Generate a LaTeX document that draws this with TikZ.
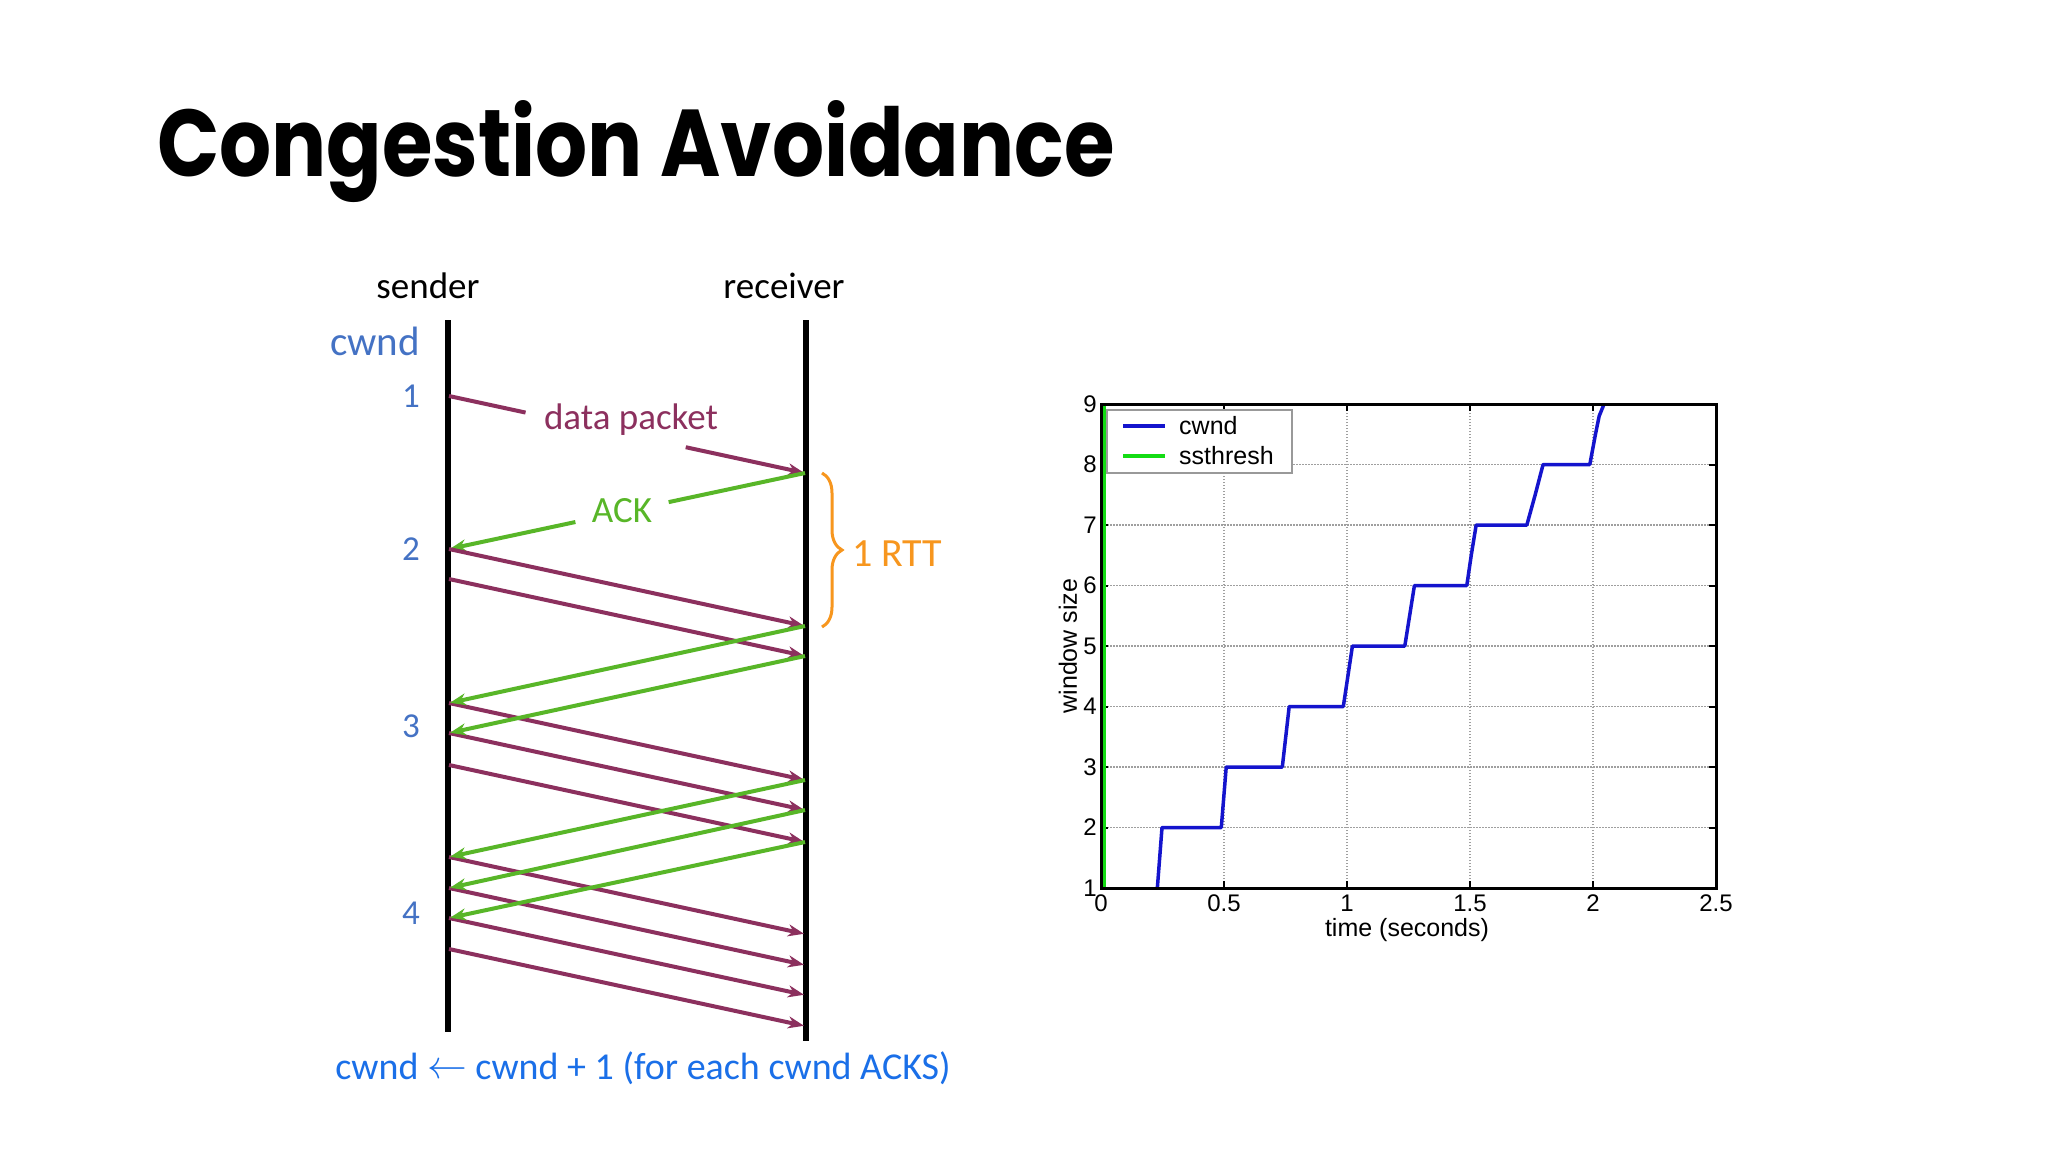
\documentclass[tikz,border=0pt]{standalone}
\usepackage{fontspec}
\setmainfont{Carlito}
\newfontfamily\titlefont{Poppins}
\newfontfamily\plotfont{Liberation Sans}
\usetikzlibrary{arrows.meta,calc,decorations.pathreplacing}
\definecolor{cwblue}{RGB}{68,114,196}
\definecolor{botblue}{RGB}{26,111,232}
\definecolor{datac}{RGB}{140,48,94}
\definecolor{ackc}{RGB}{88,182,40}
\definecolor{rttc}{RGB}{247,150,30}
\definecolor{plotblue}{RGB}{20,20,205}
\definecolor{plotgreen}{RGB}{20,220,20}
\tikzset{
  lifeline/.style={line width=6pt,black},
  datarr/.style={line width=4pt,datac,-{Stealth[length=16pt,width=12pt,inset=5pt]},shorten >=1pt},
  ackarr/.style={line width=4pt,ackc,-{Stealth[length=16pt,width=12pt,inset=5pt]},shorten >=1pt},
  dataseg/.style={line width=4pt,datac},
  ackseg/.style={line width=4pt,ackc},
  lbl/.style={font=\fontsize{37}{44}\selectfont,inner sep=0pt},
  numlbl/.style={font=\fontsize{35}{42}\selectfont,text=cwblue,inner sep=0pt},
  gridl/.style={gray!75,line width=1.2pt,dash pattern=on 1.5pt off 1.5pt},
  frame/.style={black,line width=3pt},
  ticklbl/.style={font=\plotfont\fontsize{24}{28}\selectfont,inner sep=0pt},
}
\begin{document}
\begin{tikzpicture}[x=1pt,y=-1pt]
\useasboundingbox[fill=white] (0,0) rectangle (2048,1152);

% title
\node[anchor=base west,inner sep=0pt] (title) at (157,176)
  {\resizebox{957pt}{76pt}{\titlefont\bfseries Congestion Avoidance}};

% headers
\node[lbl,anchor=base] (sender) at (428,298) {sender};
\node[lbl,anchor=base] (receiver) at (784,298) {receiver};
\node[lbl,text=cwblue,font=\fontsize{41}{48}\selectfont,anchor=base] (cwnd) at (375,355) {cwnd};

% lifelines
\coordinate (stop) at (448,320);
\coordinate (sbot) at (448,1032);
\coordinate (rtop) at (806,320);
\coordinate (rbot) at (806,1041);
\draw[lifeline] (stop) -- (sbot);
\draw[lifeline] (rtop) -- (rbot);

% numbers
\node[numlbl] (n1) at (411,396) {1};
\node[numlbl] (n2) at (411,549) {2};
\node[numlbl] (n3) at (411,726) {3};
\node[numlbl] (n4) at (411,913) {4};

% event points
\foreach \i/\sy/\ry in {1/396/473,2/549/626,3/579/656,4/703/780,5/733/810,6/765/842,7/857/934,8/888/965,9/918/995,10/949/1026}{
  \coordinate (s\i) at (449,\sy);
  \coordinate (r\i) at (805,\ry);
}

% first data packet with gap for label
\draw[dataseg] (s1) -- ($(s1)!0.215!(r1)$);
\draw[datarr] ($(s1)!0.665!(r1)$) -- (r1);
\node[lbl,text=datac] (dlabel) at (631,420) {data packet};

% first ACK with gap for label
\draw[ackseg] (r1) -- ($(r1)!0.383!(s2)$);
\draw[ackarr] ($(r1)!0.645!(s2)$) -- (s2);
\node[lbl,text=ackc] (alabel) at (622,511) {ACK};

% remaining data packets
\foreach \i in {2,...,10}{
  \draw[datarr] (s\i) -- (r\i);
}
% remaining ACKs
\draw[ackarr] (r2) -- (s4);
\draw[ackarr] (r3) -- (s5);
\draw[ackarr] (r4) -- (s7);
\draw[ackarr] (r5) -- (s8);
\draw[ackarr] (r6) -- (s9);

% RTT brace
\coordinate (btop) at (822,473);
\coordinate (bbot) at (822,627);
\draw[rttc,line width=3pt,decorate,decoration={brace,amplitude=20pt}] (btop) -- (bbot);
\node[lbl,text=rttc,font=\fontsize{40}{48}\selectfont,anchor=west] (rtt) at (852,554) {1 RTT};

% bottom formula
\node[lbl,text=botblue,font=\fontsize{38}{46}\selectfont] (formula) at (643,1068)
  {cwnd \raisebox{1pt}{\scalebox{1.6}{$\leftarrow$}} cwnd + 1 (for each cwnd ACKS)};

% ---------------- plot ----------------
\begin{scope}[shift={(1101pt,-888pt)},x=246pt,y=60.5pt]
  \foreach \gx in {0.5,1,1.5,2} \draw[gridl] (\gx,0) -- (\gx,8);
  \foreach \gy in {1,...,7} \draw[gridl] (0,\gy) -- (2.5,\gy);
  \foreach \gx in {0.5,1,1.5,2}{
    \draw[black,line width=2pt] (\gx,0) -- ++(0,7pt);
    \draw[black,line width=2pt] (\gx,8) -- ++(0,-7pt);
  }
  \foreach \gy in {1,...,7}{
    \draw[black,line width=2pt] (0,\gy) -- ++(7pt,0);
    \draw[black,line width=2pt] (2.5,\gy) -- ++(-7pt,0);
  }
  % ssthresh
  \draw[plotgreen,line width=3.5pt] (0.012,0) -- (0.012,8);
  % cwnd
  \draw[plotblue,line width=3.5pt,line join=round]
    (0.229,0) -- (0.248,1) -- (0.489,1) -- (0.509,2) -- (0.737,2) -- (0.765,3)
    -- (0.985,3) -- (1.022,4) -- (1.235,4) -- (1.274,5) -- (1.487,5)
    -- (1.505,5.5) -- (1.525,6) -- (1.731,6) -- (1.765,6.5) -- (1.797,7)
    -- (1.987,7) -- (2.01,7.5) -- (2.025,7.8) -- (2.045,8);
  \draw[frame] (0,0) rectangle (2.5,8);
  \foreach \v [count=\k from 0] in {1,...,9}
    \node[ticklbl,anchor=east] at ([xshift=-4pt]0,\k) {\v};
  \foreach \gx/\t in {0/0,0.5/0.5,1/1,1.5/1.5,2/2,2.5/2.5}
    \node[ticklbl,anchor=north] at ([yshift=-7pt]\gx,0) {\t};
\end{scope}

\node[ticklbl,font=\plotfont\fontsize{25}{30}\selectfont,anchor=north] (xlab) at (1407,918) {time (seconds)};
\node[ticklbl,font=\plotfont\fontsize{25}{30}\selectfont,rotate=90] (ylab) at (1068,646) {window size};

% legend
\draw[gray!80,line width=1.2pt,fill=white] (1107,410) rectangle (1292,473);
\coordinate (l1a) at (1123,426); \coordinate (l1b) at (1165,426);
\coordinate (l2a) at (1123,456); \coordinate (l2b) at (1165,456);
\draw[plotblue,line width=3.5pt] (l1a) -- (l1b);
\draw[plotgreen,line width=3.5pt] (l2a) -- (l2b);
\node[ticklbl,font=\plotfont\fontsize{25}{30}\selectfont,anchor=west] (leg1) at (1179,426) {cwnd};
\node[ticklbl,font=\plotfont\fontsize{25}{30}\selectfont,anchor=west] (leg2) at (1179,456) {ssthresh};
\end{tikzpicture}
\end{document}
